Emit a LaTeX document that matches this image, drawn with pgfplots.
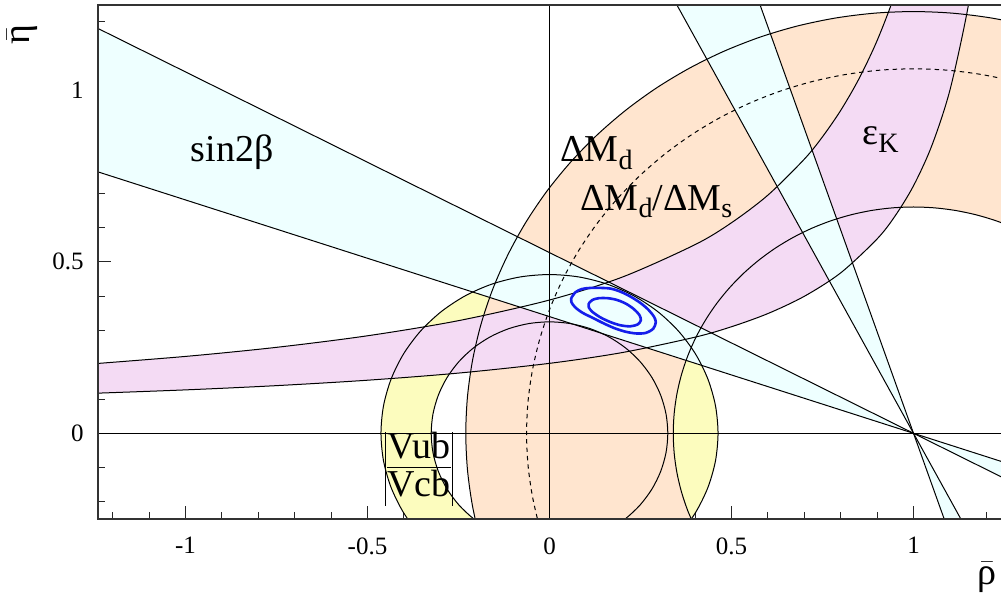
\documentclass[border=0pt]{standalone}
\usepackage{fontspec}
\setmainfont{Liberation Serif}
\usepackage{amsmath}
\usepackage{pgfplots}
\pgfplotsset{compat=1.18}
\definecolor{cyanband}{RGB}{238,255,255}
\definecolor{peachband}{RGB}{255,229,207}
\definecolor{magband}{RGB}{244,219,244}
\definecolor{yelband}{RGB}{252,252,190}
\definecolor{contblue}{RGB}{20,30,235}
\newcommand\sub[1]{\raisebox{-0.45ex}{\fontsize{14}{16}\selectfont #1}}
\begin{document}
\begin{tikzpicture}
\begin{axis}[
 scale only axis, width=451.5pt, height=257.15pt,
 xmin=-1.2404, xmax=1.2404, ymin=-0.25, ymax=1.25,
 axis line style={draw=none},
 tick align=inside, xtick pos=left, ytick pos=left,
 xtick={-1,-0.5,0,0.5,1}, xticklabels={-1,-0.5,0,0.5,1},
 ytick={0,0.5,1}, yticklabels={0,0.5,1},
 minor xtick={-1.2,-1.1,-0.9,-0.8,-0.7,-0.6,-0.4,-0.3,-0.2,-0.1,0.1,0.2,0.3,0.4,0.6,0.7,0.8,0.9,1.1,1.2},
 minor ytick={-0.2,-0.1,0.1,0.2,0.3,0.4,0.6,0.7,0.8,0.9,1.1,1.2},
 major tick length=6.5pt, minor tick length=3.3pt,
 tick style={black!85, line width=0.5pt},
 tick label style={font=\fontsize{12.5}{14}\selectfont},
 xticklabel style={yshift=-5.7pt},
 yticklabel style={xshift=-3.7pt},
 clip=true,
]
% |Vub/Vcb| ring
\addplot[draw=none, fill=yelband, smooth] coordinates {
(0.1583,-0.4351) (0.2315,-0.401) (0.2976,-0.3547) (0.3547,-0.2976) (0.401,-0.2315) (0.4351,-0.1583) (0.456,-0.0804) (0.463,0) (0.456,0.0804) (0.4351,0.1583) (0.401,0.2315) (0.3547,0.2976) (0.2976,0.3547) (0.2315,0.401) (0.1583,0.4351) (0.0804,0.456) (0,0.463) (-0.0804,0.456) (-0.1583,0.4351) (-0.2315,0.401) (-0.2976,0.3547) (-0.3547,0.2976) (-0.401,0.2315) (-0.4351,0.1583) (-0.456,0.0804) (-0.463,0) (-0.456,-0.0804) (-0.4351,-0.1583) (-0.401,-0.2315) (-0.3547,-0.2976) (-0.2976,-0.3547) (-0.2315,-0.401) (-0.1583,-0.4351)
(-0.1112,-0.3054) (-0.1625,-0.2815) (-0.2089,-0.249) (-0.249,-0.2089) (-0.2815,-0.1625) (-0.3054,-0.1112) (-0.3201,-0.0564) (-0.325,0) (-0.3201,0.0564) (-0.3054,0.1112) (-0.2815,0.1625) (-0.249,0.2089) (-0.2089,0.249) (-0.1625,0.2815) (-0.1112,0.3054) (-0.0564,0.3201) (0,0.325) (0.0564,0.3201) (0.1112,0.3054) (0.1625,0.2815) (0.2089,0.249) (0.249,0.2089) (0.2815,0.1625) (0.3054,0.1112) (0.3201,0.0564) (0.325,0) (0.3201,-0.0564) (0.3054,-0.1112) (0.2815,-0.1625) (0.249,-0.2089) (0.2089,-0.249) (0.1625,-0.2815) (0.1112,-0.3054)};
% Delta M_d annulus
\addplot[draw=none, fill=peachband] coordinates {
(1.615,1.0652) (1.5198,1.1147) (1.4207,1.1558) (1.3183,1.1881) (1.2135,1.2113) (1.1073,1.2253) (1,1.23) (0.8927,1.2253) (0.7865,1.2113) (0.6817,1.1881) (0.5793,1.1558) (0.4802,1.1147) (0.385,1.0652) (0.2945,1.0076) (0.2094,0.9422) (0.1303,0.8697) (0.0578,0.7906) (-0.0076,0.7055) (-0.0652,0.615) (-0.1147,0.5198) (-0.1558,0.4207) (-0.1881,0.3183) (-0.2113,0.2135) (-0.2253,0.1073) (-0.23,0) (-0.2253,-0.1073) (-0.2113,-0.2135) (-0.1881,-0.3183) (-0.1558,-0.4207) (-0.1147,-0.5198)
(0.4018,-0.2789) (0.3798,-0.2257) (0.3625,-0.1708) (0.35,-0.1146) (0.3425,-0.0576) (0.34,0) (0.3425,0.0576) (0.35,0.1146) (0.3625,0.1708) (0.3798,0.2257) (0.4018,0.2789) (0.4284,0.33) (0.4593,0.3786) (0.4944,0.4242) (0.5333,0.4667) (0.5758,0.5056) (0.6214,0.5407) (0.67,0.5716) (0.7211,0.5982) (0.7743,0.6202) (0.8292,0.6375) (0.8854,0.65) (0.9424,0.6575) (1,0.66) (1.0576,0.6575) (1.1146,0.65) (1.1708,0.6375) (1.2257,0.6202) (1.2789,0.5982) (1.33,0.5716)};
% epsilon_K band
\addplot[draw=none, fill=magband, smooth] coordinates {
(-1.3,0.1989) (-1.0,0.2242) (-0.75,0.2507) (-0.5,0.2844) (-0.25,0.3285) (0,0.3887) (0.2,0.4556) (0.4,0.5503) (0.5,0.6141) (0.6,0.6946) (0.7,0.7995) (0.75,0.8648) (0.8,0.9417) (0.85,1.0336) (0.9,1.1453) (0.95,1.2842) (1.0,1.4614)
(1.18,1.458) (1.15,1.2439) (1.1,1.0006) (1.05,0.8381) (1.0,0.7219) (0.95,0.6347) (0.9,0.5668) (0.8,0.4679) (0.7,0.3995) (0.6,0.3492) (0.5,0.3108) (0.4,0.2804) (0.2,0.2355) (0,0.2040) (-0.25,0.1756) (-0.5,0.1548) (-0.75,0.1390) (-1.0,0.1266) (-1.3,0.1148)};
% sin 2beta bands
\addplot[draw=none, fill=cyanband] coordinates {(1,0) (-1.3,1.2121) (-1.3,0.7827)};
\addplot[draw=none, fill=cyanband] coordinates {(1,0) (1.3,-0.1581) (1.3,-0.1021)};
\addplot[draw=none, fill=cyanband] coordinates {(1,0) (0.3236,1.3) (0.5614,1.3)};
\addplot[draw=none, fill=cyanband] coordinates {(1,0) (1.1561,-0.3) (1.1012,-0.3)};
% axes through origin
\addplot[black, line width=0.5pt] coordinates {(-1.3,0) (1.3,0)};
\addplot[black, line width=0.5pt] coordinates {(0,-0.3) (0,1.3)};
% boundary curves
\addplot[black, line width=0.5pt, smooth] coordinates {
(0.1583,-0.4351) (0.2315,-0.401) (0.2976,-0.3547) (0.3547,-0.2976) (0.401,-0.2315) (0.4351,-0.1583) (0.456,-0.0804) (0.463,0) (0.456,0.0804) (0.4351,0.1583) (0.401,0.2315) (0.3547,0.2976) (0.2976,0.3547) (0.2315,0.401) (0.1583,0.4351) (0.0804,0.456) (0,0.463) (-0.0804,0.456) (-0.1583,0.4351) (-0.2315,0.401) (-0.2976,0.3547) (-0.3547,0.2976) (-0.401,0.2315) (-0.4351,0.1583) (-0.456,0.0804) (-0.463,0) (-0.456,-0.0804) (-0.4351,-0.1583) (-0.401,-0.2315) (-0.3547,-0.2976) (-0.2976,-0.3547) (-0.2315,-0.401) (-0.1583,-0.4351)};
\addplot[black, line width=0.5pt, smooth] coordinates {
(-0.1112,-0.3054) (-0.1625,-0.2815) (-0.2089,-0.249) (-0.249,-0.2089) (-0.2815,-0.1625) (-0.3054,-0.1112) (-0.3201,-0.0564) (-0.325,0) (-0.3201,0.0564) (-0.3054,0.1112) (-0.2815,0.1625) (-0.249,0.2089) (-0.2089,0.249) (-0.1625,0.2815) (-0.1112,0.3054) (-0.0564,0.3201) (0,0.325) (0.0564,0.3201) (0.1112,0.3054) (0.1625,0.2815) (0.2089,0.249) (0.249,0.2089) (0.2815,0.1625) (0.3054,0.1112) (0.3201,0.0564) (0.325,0) (0.3201,-0.0564) (0.3054,-0.1112) (0.2815,-0.1625) (0.249,-0.2089) (0.2089,-0.249) (0.1625,-0.2815) (0.1112,-0.3054)};
\addplot[black, line width=0.5pt, smooth] coordinates {
(1.615,1.0652) (1.5198,1.1147) (1.4207,1.1558) (1.3183,1.1881) (1.2135,1.2113) (1.1073,1.2253) (1,1.23) (0.8927,1.2253) (0.7865,1.2113) (0.6817,1.1881) (0.5793,1.1558) (0.4802,1.1147) (0.385,1.0652) (0.2945,1.0076) (0.2094,0.9422) (0.1303,0.8697) (0.0578,0.7906) (-0.0076,0.7055) (-0.0652,0.615) (-0.1147,0.5198) (-0.1558,0.4207) (-0.1881,0.3183) (-0.2113,0.2135) (-0.2253,0.1073) (-0.23,0) (-0.2253,-0.1073) (-0.2113,-0.2135) (-0.1881,-0.3183) (-0.1558,-0.4207) (-0.1147,-0.5198)};
\addplot[black, line width=0.5pt, smooth] coordinates {
(0.4018,-0.2789) (0.3798,-0.2257) (0.3625,-0.1708) (0.35,-0.1146) (0.3425,-0.0576) (0.34,0) (0.3425,0.0576) (0.35,0.1146) (0.3625,0.1708) (0.3798,0.2257) (0.4018,0.2789) (0.4284,0.33) (0.4593,0.3786) (0.4944,0.4242) (0.5333,0.4667) (0.5758,0.5056) (0.6214,0.5407) (0.67,0.5716) (0.7211,0.5982) (0.7743,0.6202) (0.8292,0.6375) (0.8854,0.65) (0.9424,0.6575) (1,0.66) (1.0576,0.6575) (1.1146,0.65) (1.1708,0.6375) (1.2257,0.6202) (1.2789,0.5982) (1.33,0.5716)};
% Delta M_d / Delta M_s (dashed)
\addplot[black, line width=0.5pt, smooth, dash pattern=on 2.2pt off 2pt] coordinates {
(1.3635,0.9989) (1.2751,1.0267) (1.1845,1.0468) (1.0927,1.059) (1,1.063) (0.9073,1.059) (0.8155,1.0468) (0.7249,1.0267) (0.6365,0.9989) (0.5508,0.9634) (0.4685,0.9206) (0.3903,0.8708) (0.3167,0.8143) (0.2484,0.7516) (0.1857,0.6833) (0.1292,0.6097) (0.0794,0.5315) (0.0366,0.4492) (0.0011,0.3635) (-0.0267,0.2751) (-0.0468,0.1845) (-0.059,0.0927) (-0.063,0) (-0.059,-0.0927) (-0.0468,-0.1845) (-0.0267,-0.2751) (0.0011,-0.3635)};
% epsilon_K boundaries
\addplot[black, line width=0.5pt, smooth] coordinates {
(-1.3,0.1989) (-1.0,0.2242) (-0.75,0.2507) (-0.5,0.2844) (-0.25,0.3285) (0,0.3887) (0.2,0.4556) (0.4,0.5503) (0.5,0.6141) (0.6,0.6946) (0.7,0.7995) (0.75,0.8648) (0.8,0.9417) (0.85,1.0336) (0.9,1.1453) (0.95,1.2842) (1.0,1.4614)};
\addplot[black, line width=0.5pt, smooth] coordinates {
(-1.3,0.1148) (-1.0,0.1266) (-0.75,0.1390) (-0.5,0.1548) (-0.25,0.1756) (0,0.2040) (0.2,0.2355) (0.4,0.2804) (0.5,0.3108) (0.6,0.3492) (0.7,0.3995) (0.8,0.4679) (0.9,0.5668) (0.95,0.6347) (1.0,0.7219) (1.05,0.8381) (1.1,1.0006) (1.15,1.2439) (1.18,1.458)};
% sin 2beta lines
\addplot[black, line width=0.5pt] coordinates {(-1.3,1.2121) (1.3,-0.1581)};
\addplot[black, line width=0.5pt] coordinates {(-1.3,0.7827) (1.3,-0.1021)};
\addplot[black, line width=0.5pt] coordinates {(0.3236,1.3) (1.1561,-0.3)};
\addplot[black, line width=0.5pt] coordinates {(0.5614,1.3) (1.1012,-0.3)};
% fit contours
\addplot[contblue, line width=1.3pt, smooth] coordinates {
(0.060,0.395) (0.072,0.412) (0.090,0.421) (0.113,0.424) (0.140,0.424) (0.168,0.422) (0.195,0.413) (0.222,0.399) (0.250,0.380) (0.272,0.360) (0.287,0.340) (0.292,0.324) (0.285,0.305) (0.265,0.293) (0.240,0.291) (0.210,0.296) (0.180,0.306) (0.150,0.320) (0.118,0.337) (0.090,0.352) (0.070,0.368) (0.060,0.383) (0.060,0.395)};
\addplot[contblue, line width=1.3pt, smooth] coordinates {
(0.108,0.379) (0.118,0.389) (0.135,0.394) (0.160,0.394) (0.185,0.389) (0.210,0.378) (0.232,0.362) (0.247,0.345) (0.251,0.330) (0.243,0.318) (0.222,0.312) (0.195,0.315) (0.168,0.324) (0.140,0.338) (0.118,0.354) (0.108,0.367) (0.108,0.379)};
% labels
\node[anchor=base, font=\fontsize{19}{22}\selectfont] at (axis cs:-0.872,0.792) {sin2β};
\node[anchor=base west, font=\fontsize{19}{22}\selectfont, inner sep=0pt] at (axis cs:0.0288,0.792) {ΔM\sub{d}};
\node[anchor=base west, font=\fontsize{19}{22}\selectfont, inner sep=0pt] at (axis cs:0.0838,0.651) {ΔM\sub{d}/ΔM\sub{s}};
\node[anchor=base west, font=\fontsize{19}{22}\selectfont, inner sep=0pt] at (axis cs:0.8585,0.841) {ε\sub{K}};
\node[font=\fontsize{19}{22}\selectfont, inner sep=0pt] at (axis cs:-0.3585,-0.105) {\renewcommand{\arraystretch}{0.8}\rule[-14pt]{0.6pt}{37pt}\hspace{0.5pt}\begin{tabular}{@{}c@{}}Vub\\[-1pt]\hline\rule{0pt}{14.5pt}Vcb\end{tabular}\hspace{0.5pt}\rule[-14pt]{0.6pt}{37pt}};
\end{axis}
\draw[line width=0.9pt, black!80] (current axis.south east) -- (current axis.south west) -- (current axis.north west) -- (current axis.north east);
\node[rotate=90, font=\fontsize{19}{22}\selectfont] at ([xshift=-38pt,yshift=-15pt]current axis.north west) {$\bar{\text{η}}$};
\node[font=\fontsize{19}{22}\selectfont] at ([xshift=-7pt,yshift=-29pt]current axis.south east) {$\bar{\text{ρ}}$};
\pgfresetboundingbox
\useasboundingbox ([xshift=-49pt,yshift=-38.5pt]current axis.south west) rectangle ([yshift=2.35pt]current axis.north east);
\end{tikzpicture}
\end{document}
